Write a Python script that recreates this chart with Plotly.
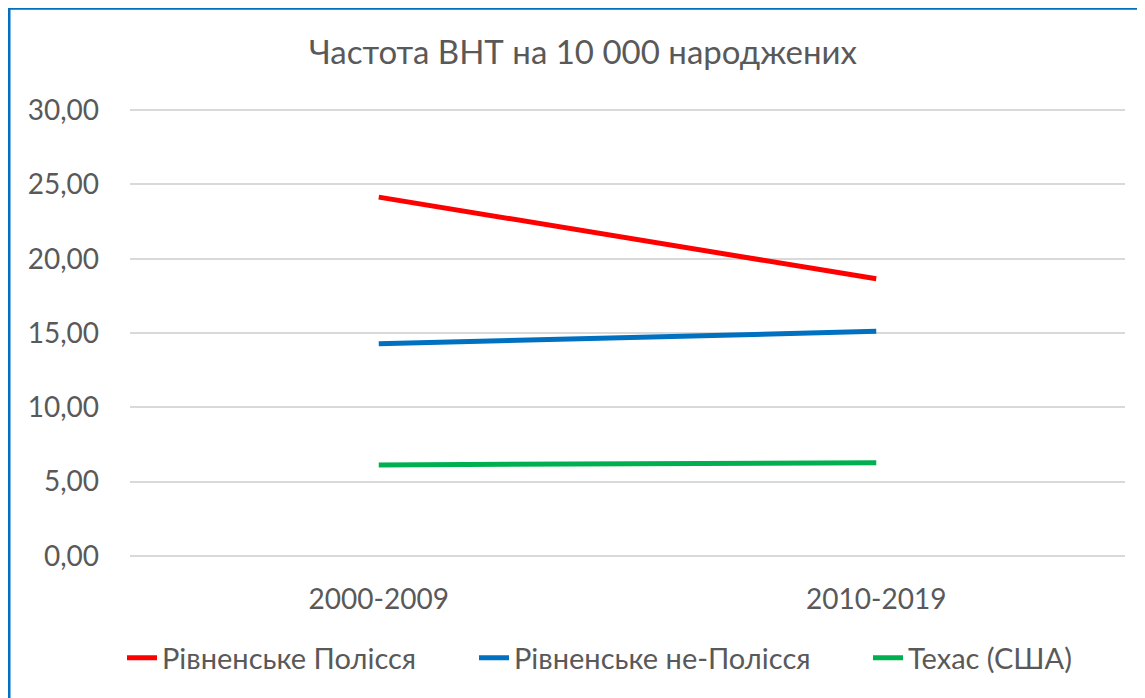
import plotly.graph_objects as go

categories = ["2000-2009", "2010-2019"]
series_names = ["Рівненське Полісся", "Рівненське не-Полісся", "Техас (США)"]
polissia = [24.15, 18.65]
ne_polissia = [14.28, 15.11]
texas = [6.12, 6.27]
colors = ["#FF0000", "#0070C0", "#00B050"]
y_ticks = [0, 5, 10, 15, 20, 25, 30]
y_tick_labels = ["0,00", "5,00", "10,00", "15,00", "20,00", "25,00", "30,00"]
title_text = "Частота ВНТ на 10 000 народжених"

OFF = 8  # page body margin offset
W, H = 1145 - OFF, 698 - OFF
Y_PAD = 0.15
PX_PER_UNIT = (556 - 110) / 30.0
pad_px = Y_PAD * PX_PER_UNIT
L = 130 - OFF
T = 110 - OFF - pad_px
R = W - (1125 - OFF)
B = H - (556 - OFF) - pad_px
font_family = "Lato, 'Noto Sans', sans-serif"
text_color = "#595959"

legend_ids = ["legend", "legend2", "legend3"]
legend_page_x = [122, 474, 868]

fig = go.Figure()
for name, vals, c, lg in zip(series_names, [polissia, ne_polissia, texas], colors, legend_ids):
    fig.add_trace(go.Scatter(x=categories, y=vals, name=name, mode="lines",
                             line=dict(color=c, width=5), legend=lg))

pw = W - L - R
ph = H - T - B
legend_common = dict(orientation="h", xref="container", xanchor="left",
                     y=1 - (658 - OFF) / H, yref="container", yanchor="middle",
                     font=dict(family=font_family, size=29, color=text_color),
                     bgcolor="rgba(0,0,0,0)")
layout_legends = {}
for lg, px in zip(legend_ids, legend_page_x):
    layout_legends[lg] = dict(legend_common, x=(px - OFF) / W)

fig.update_layout(
    width=W, height=H,
    margin=dict(l=L, r=R, t=T, b=B),
    paper_bgcolor="white", plot_bgcolor="white",
    title=dict(text=title_text, x=(583 - OFF) / W, xanchor="center",
               y=1 - (52 - OFF) / H, yanchor="middle", yref="container",
               font=dict(family=font_family, size=33, color=text_color)),
    xaxis=dict(type="category", range=[-0.5, 1.5], showgrid=False, zeroline=False,
               showline=False, ticks="", ticklabelstandoff=int(round(20 + pad_px)),
               tickfont=dict(family=font_family, size=28, color=text_color)),
    yaxis=dict(range=[-Y_PAD, 30 + Y_PAD], tickvals=y_ticks, ticktext=y_tick_labels,
               showgrid=True, gridcolor="#D9D9D9", gridwidth=2,
               zeroline=True, zerolinecolor="#D9D9D9", zerolinewidth=2,
               showline=False, ticks="", ticklabelstandoff=30,
               tickfont=dict(family=font_family, size=28, color=text_color)),
    showlegend=True,
    **layout_legends,
)
fig.add_shape(type="rect", xref="paper", yref="paper",
              x0=(9 - OFF - L) / pw, x1=(W + 20 - L) / pw,
              y0=(B - (H + 20)) / ph, y1=(H - B - (8 - OFF)) / ph,
              line=dict(color="#0070C0", width=3), fillcolor="rgba(0,0,0,0)", layer="above")
fig.write_html("out.html")
